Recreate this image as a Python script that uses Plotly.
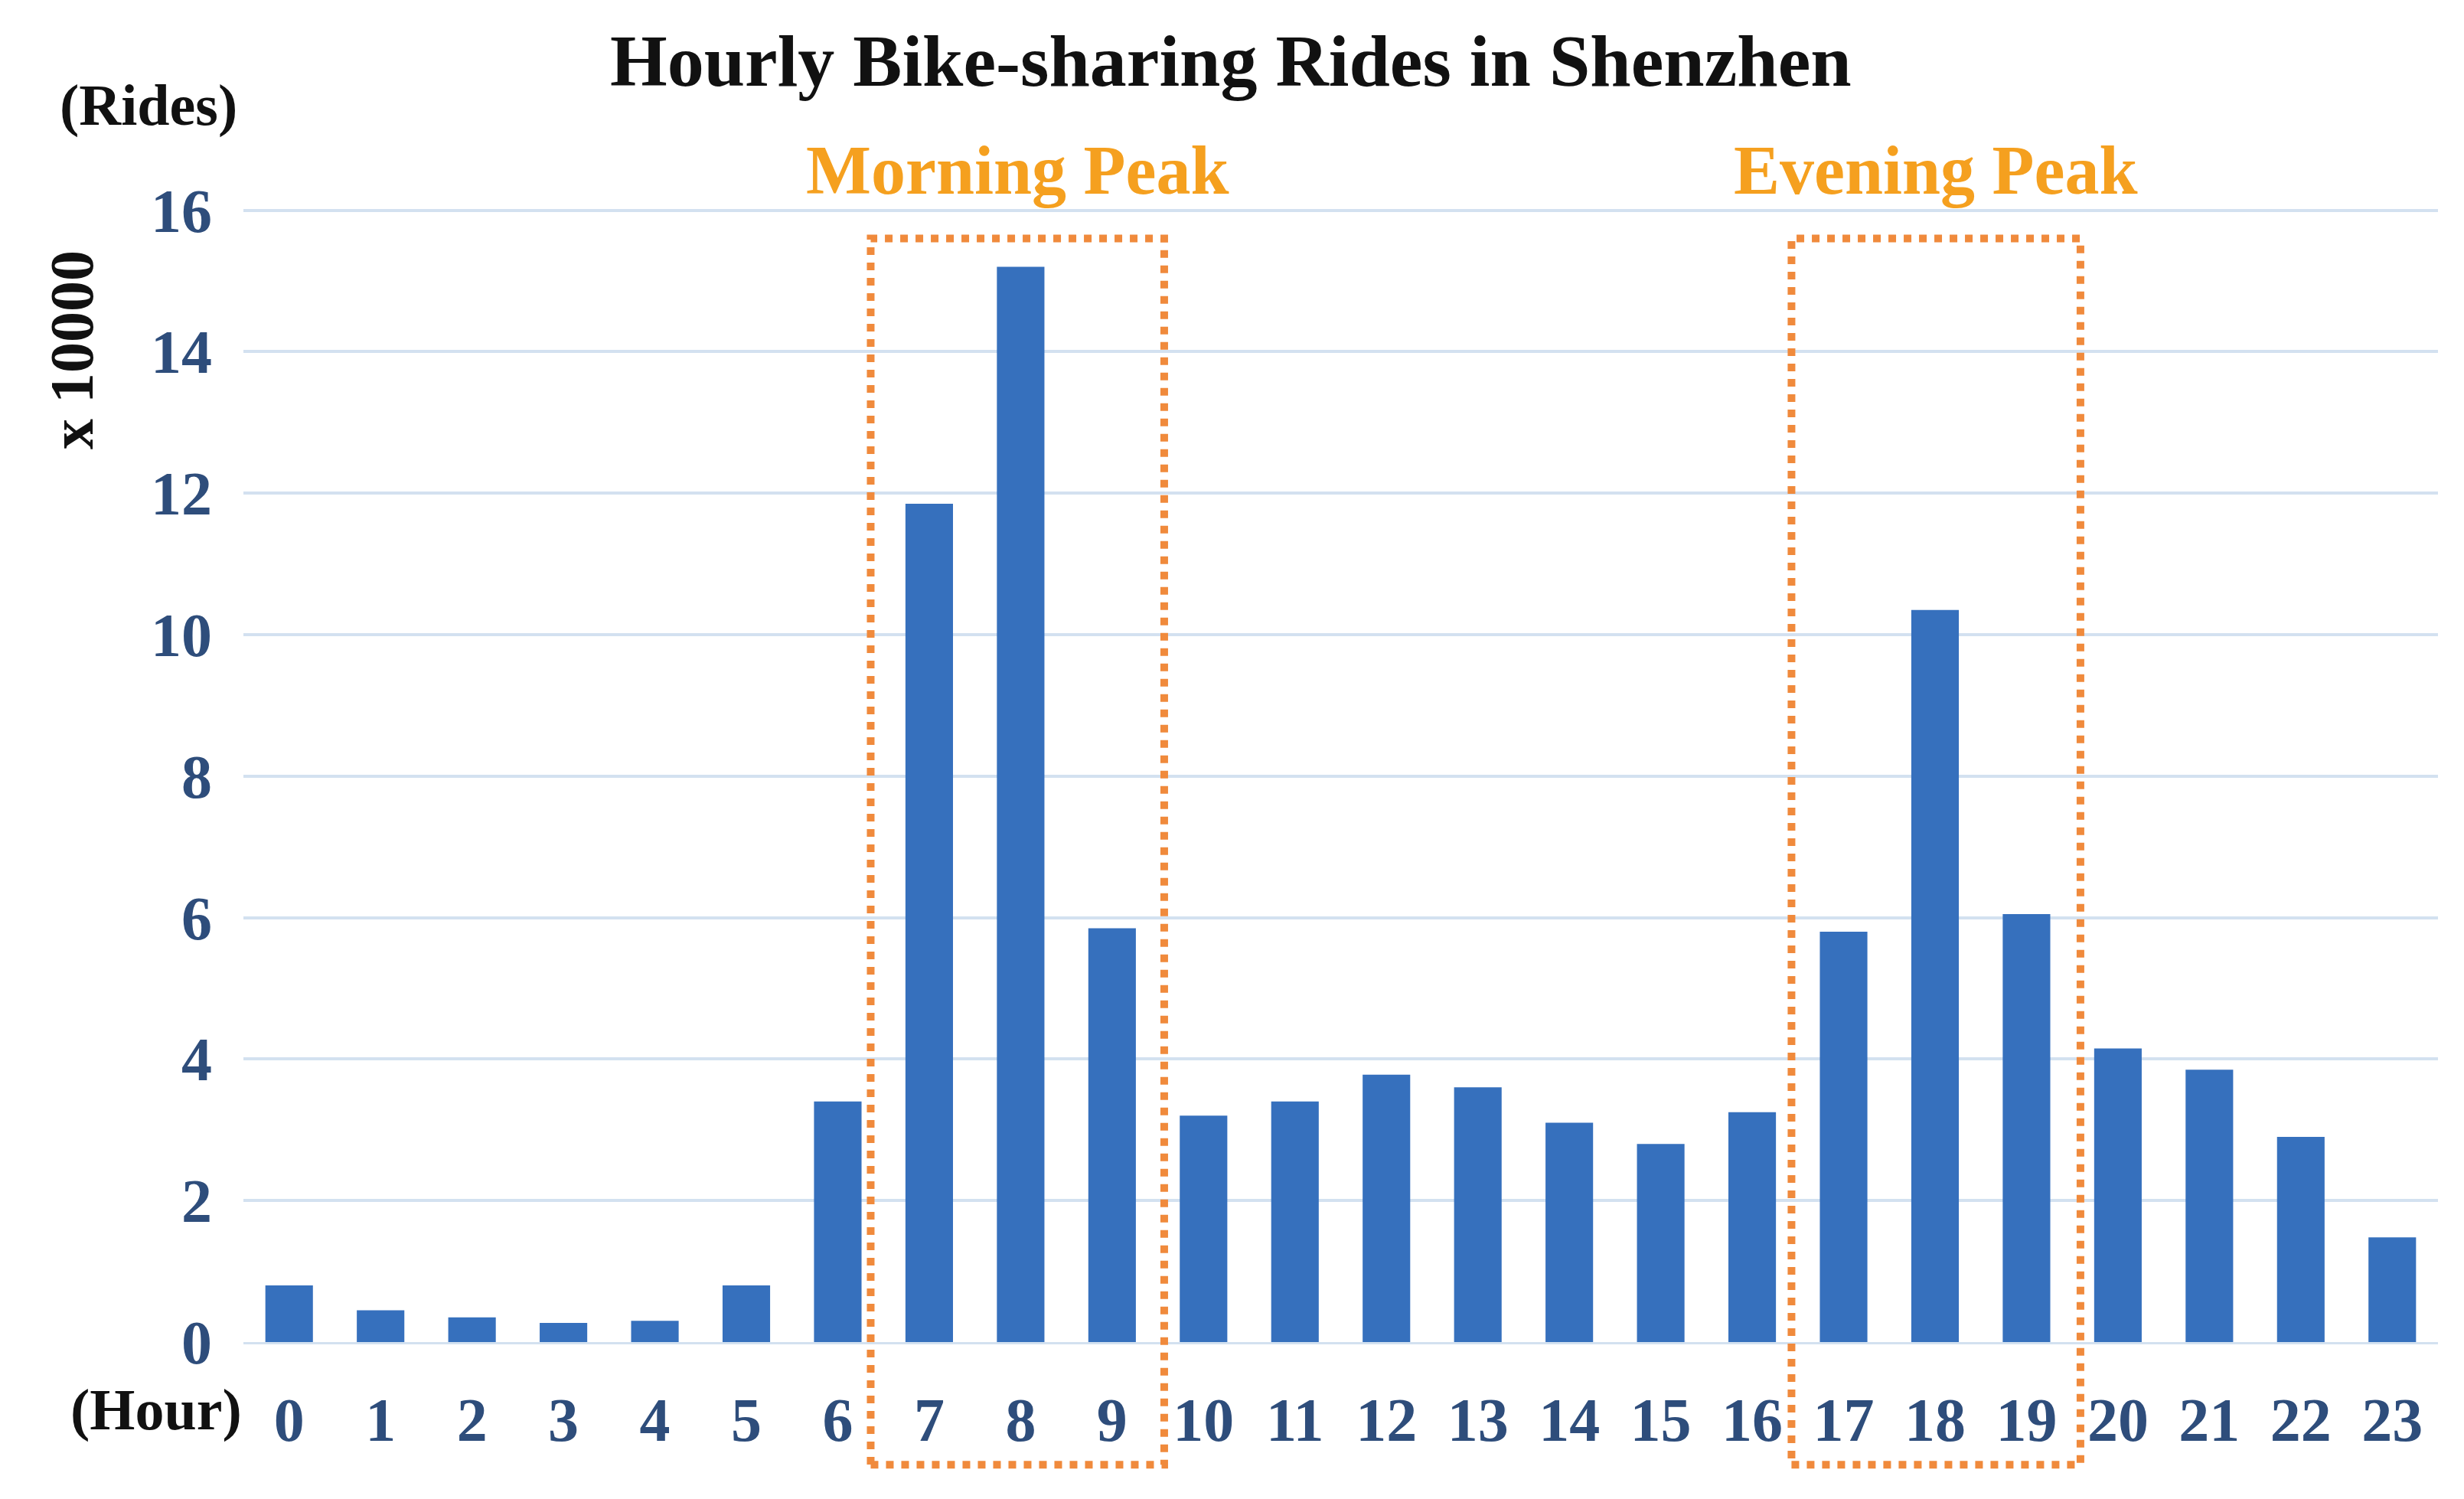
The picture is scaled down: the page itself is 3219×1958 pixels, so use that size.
import plotly.graph_objects as go

hours = [str(h) for h in range(24)]
rides = [0.8, 0.45, 0.35, 0.27, 0.3, 0.8, 3.4, 11.85, 15.2, 5.85, 3.2, 3.4,
         3.78, 3.6, 3.1, 2.8, 3.25, 5.8, 10.35, 6.05, 4.15, 3.85, 2.9, 1.48]
y_ticks = [0, 2, 4, 6, 8, 10, 12, 14, 16]
peaks = [("Morning Peak", 6.36, 9.57), ("Evening Peak", 16.43, 19.59)]

W, H = 3219, 1958
serif = "Liberation Serif"
tick_col = "#2e4d7b"
orange = "#f5a01f"

fig = go.Figure(go.Bar(x=list(range(24)), y=rides, width=0.52,
                       marker=dict(color="#3670bd", line=dict(width=0))))

shapes = []
annotations = []
for name, x0, x1 in peaks:
    shapes.append(dict(type="rect", xref="x", yref="paper", x0=x0, x1=x1,
                       y0=-0.108, y1=0.972,
                       line=dict(color="#f08a3c", width=10, dash="dot")))
    annotations.append(dict(text=name, x=(x0 + x1) / 2, y=1.067, xref="x", yref="paper",
                            showarrow=False, font=dict(family=serif, size=90, color=orange)))

pl, pr, pt, pb = 310, 42, 262, 213
pw, ph = W - pl - pr, H - pt - pb
labels = [("(Rides)", 68, H - 85, 0, 76),
          ("(Hour)", 82, H - 1878, 0, 76),
          ("x 10000", 40, H - 317, -90, 80)]
for text, px, py, ang, size in labels:
    annotations.append(dict(text=text, x=(px - pl) / pw, y=(py - pb) / ph,
                            xref="paper", yref="paper", showarrow=False, textangle=ang,
                            font=dict(family=serif, size=size, color="#111111")))

fig.update_layout(
    width=W, height=H,
    margin=dict(l=pl, r=pr, t=pt, b=pb),
    paper_bgcolor="white", plot_bgcolor="white",
    title=dict(text="<b>Hourly Bike-sharing Rides in Shenzhen</b>", x=0.497, xref="container",
               xanchor="center", y=1 - 70 / H, yanchor="middle",
               font=dict(family=serif, size=96, color="#111111")),
    showlegend=False,
    shapes=shapes, annotations=annotations,
    xaxis=dict(tickmode="array", tickvals=list(range(24)), ticktext=hours,
               range=[-0.5, 23.5], showgrid=False, ticks="", ticklen=0,
               tickfont=dict(family=serif, size=80, color=tick_col),
               showline=True, linecolor="#d3e1f0", linewidth=3),
    yaxis=dict(tickmode="array", tickvals=y_ticks, ticktext=[str(v) for v in y_ticks],
               range=[0, 16.05], showgrid=True, gridcolor="#d3e1f0", gridwidth=4,
               zeroline=False, ticks="", ticklabelstandoff=40,
               tickfont=dict(family=serif, size=80, color=tick_col)),
)
fig.update_xaxes(ticklabelstandoff=30)
fig.update_layout(font=dict(family=serif))
fig.update_xaxes(tickfont_weight="bold")
fig.update_yaxes(tickfont_weight="bold")
for a in fig.layout.annotations:
    a.font.weight = "bold"
fig.write_html("out.html")
